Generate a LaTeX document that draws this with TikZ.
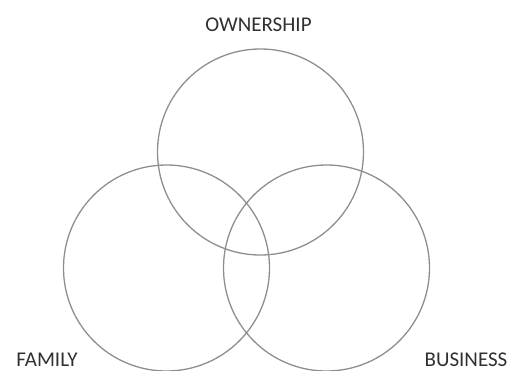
\documentclass[tikz,border=0pt]{standalone}
\usepackage{fontspec}
\setmainfont{Carlito}
\definecolor{ringgray}{HTML}{8E8E8E}
\definecolor{textgray}{HTML}{303030}
\tikzset{
  ring/.style={draw=ringgray,line width=1.3pt,circle,minimum size=206pt,inner sep=0pt},
  venntext/.style={text=textgray,inner sep=0pt,anchor=base,text depth=0pt,font=\fontsize{21}{24}\selectfont}
}
\begin{document}
\begin{tikzpicture}[x=1pt,y=-1pt]
\useasboundingbox (0,0) rectangle (511,370);
\node[ring] (ownership) at (260.5,152) {};
\node[ring] (family) at (166.5,268) {};
\node[ring] (business) at (326.5,268) {};
\node[venntext] (owntext) at (258.5,31) {OWNERSHIP};
\node[venntext] (famtext) at (47,366) {FAMILY};
\node[venntext] (bustext) at (466,366) {BUSINESS};
\end{tikzpicture}
\end{document}
